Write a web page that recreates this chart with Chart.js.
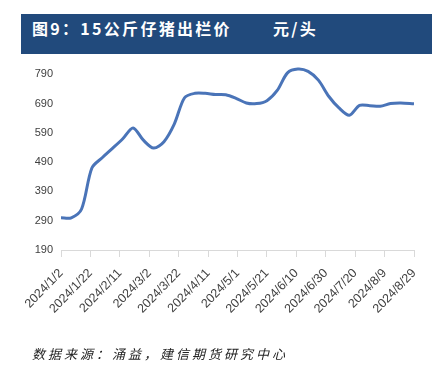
<!DOCTYPE html>
<html><head><meta charset="utf-8">
<script src="https://cdn.jsdelivr.net/npm/chart.js@4/dist/chart.umd.min.js"></script>
<style>
html,body{margin:0;padding:0;background:#fff;}
#wrap{position:relative;width:444px;height:368px;overflow:hidden;}
#title{position:absolute;left:21px;top:14px;width:411px;height:40px;background:#214a7c;color:#fff;
 font-family:"Noto Sans CJK SC",sans-serif;font-weight:bold;font-size:16px;letter-spacing:2.3px;line-height:16px;}
#title span{position:absolute;top:6px;white-space:nowrap;}
#foot{position:absolute;left:32px;top:346px;font-family:"Noto Sans CJK SC",serif;font-style:italic;font-size:13px;letter-spacing:3px;color:#222;line-height:16px;white-space:nowrap;}
#c{position:absolute;left:0;top:0;}
</style></head>
<body><div id="wrap">
<canvas id="c" width="444" height="368"></canvas>
<div id="title"><span style="left:11px">图9：15公斤仔猪出栏价</span><span style="left:252px">元/头</span></div>
<div id="foot">数据来源：涌益，建信期货研究中心</div>
</div>
<script>
const dates = ["2024-01-02","2024-01-09","2024-01-16","2024-01-23","2024-01-30","2024-02-06","2024-02-13","2024-02-20","2024-02-27","2024-03-05","2024-03-12","2024-03-19","2024-03-26","2024-04-02","2024-04-09","2024-04-16","2024-04-23","2024-04-30","2024-05-07","2024-05-14","2024-05-21","2024-05-28","2024-06-04","2024-06-11","2024-06-18","2024-06-25","2024-07-02","2024-07-09","2024-07-16","2024-07-23","2024-07-30","2024-08-06","2024-08-13","2024-08-20","2024-08-29"];
const prices = [300,300,330,470,505,537,570,607,565,538,560,620,710,725,725,721,720,708,692,690,700,735,795,808,800,770,715,675,650,684,683,681,690,692,689];
const xTickLabels = ["2024/1/2","2024/1/22","2024/2/11","2024/3/2","2024/3/22","2024/4/11","2024/5/1","2024/5/21","2024/6/10","2024/6/30","2024/7/20","2024/8/9","2024/8/29"];
const yTickValues = [190,290,390,490,590,690,790];

const base = Date.UTC(2024,0,2);
const pts = dates.map((d,i)=>{const p=d.split('-');return {x:(Date.UTC(+p[0],+p[1]-1,+p[2])-base)/86400000, y:prices[i]};});
const yFont = {family:"'Liberation Sans Narrow','Liberation Sans',Arial,sans-serif", size:11};
const xFont = {family:"'Liberation Sans Narrow','Liberation Sans',Arial,sans-serif", size:12.5};

new Chart(document.getElementById('c'), {
  type:'line',
  data:{datasets:[{data:pts, borderColor:'#4a74b8', borderWidth:3, pointRadius:0, tension:0.3, fill:false}]},
  options:{
    responsive:false, animation:false, devicePixelRatio:1,
    layout:{padding:{left:0,right:30,top:62,bottom:0}},
    plugins:{legend:{display:false}, tooltip:{enabled:false}},
    scales:{
      x:{type:'linear', min:0, max:240,
         afterBuildTicks:s=>{s.ticks=xTickLabels.map((l,i)=>({value:i*20}));},
         afterFit:s=>{s.height=118;},
         grid:{drawOnChartArea:false, drawTicks:true, tickLength:7, color:'#d9d9d9'},
         border:{color:'#d9d9d9'},
         ticks:{autoSkip:false, maxRotation:46, minRotation:46, padding:9, color:'#404040', font:xFont,
                callback:(v,i)=>xTickLabels[i]}},
      y:{min:190, max:832,
         afterBuildTicks:s=>{s.ticks=yTickValues.map(v=>({value:v}));},
         afterFit:s=>{s.width=61;},
         grid:{display:false, drawTicks:false},
         border:{display:false},
         ticks:{padding:8, color:'#404040', font:yFont}}
    }
  }
});
</script>
</body></html>
